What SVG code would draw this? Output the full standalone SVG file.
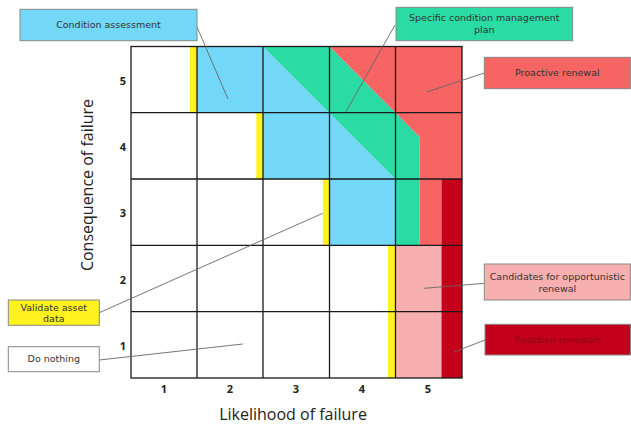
<svg xmlns="http://www.w3.org/2000/svg" width="631" height="426" viewBox="0 0 631 426">
<style>
.lbl{font-family:"DejaVu Sans","Open Sans",sans-serif;font-size:9.5px;fill:#333;text-anchor:middle}
.num{font-family:"Open Sans","DejaVu Sans",sans-serif;font-size:11px;font-weight:bold;fill:#222;text-anchor:middle}
.axis{font-family:"Open Sans","DejaVu Sans",sans-serif;font-size:16px;fill:#222;text-anchor:middle}
.box{stroke:#888;stroke-width:1}
.grid{stroke:#1a1a1a;stroke-width:1.3;fill:none}
.conn{stroke:#666;stroke-width:0.9;fill:none}
</style>
<rect width="631" height="426" fill="#fff"/>
<g id="matrix">
  <rect x="131" y="46.5" width="331" height="331.5" fill="#fff"/>
  <polygon points="197,46.5 263,46.5 395.5,179 395.5,245.3 329.5,245.3 329.5,179 263,179 263,112.7 197,112.7" fill="#73D7F8"/>
  <polygon points="263,46.5 329.5,46.5 395.5,112.7 419.5,137 419.5,245.3 395.5,245.3 395.5,179" fill="#2BDBA4"/>
  <polygon points="329.5,46.5 462,46.5 462,179 441.5,179 441.5,245.3 419.5,245.3 419.5,137 395.5,112.7" fill="#F66464"/>
  <rect x="395.5" y="245.3" width="46" height="132.7" fill="#F8AFAF"/>
  <rect x="441.5" y="179" width="20.5" height="199" fill="#C4001A"/>
  <rect x="190" y="46.5" width="7" height="66.2" fill="#FFF21E"/>
  <rect x="256.3" y="112.7" width="6.7" height="66.3" fill="#FFF21E"/>
  <rect x="322.8" y="179" width="6.7" height="66.3" fill="#FFF21E"/>
  <rect x="388" y="245.3" width="7.5" height="132.7" fill="#FFF21E"/>
  <g class="grid">
    <rect x="131" y="46.5" width="331" height="331.5"/>
    <path d="M197,46.5V378M263,46.5V378M329.5,46.5V378M395.5,46.5V378M131,112.7H462M131,179H462M131,245.3H462M131,311.7H462"/>
  </g>
</g>
<g id="axes">
  <text class="num" x="123" y="85">5</text>
  <text class="num" x="123" y="151">4</text>
  <text class="num" x="123" y="217">3</text>
  <text class="num" x="123" y="284">2</text>
  <text class="num" x="123" y="350">1</text>
  <text class="num" x="164" y="393">1</text>
  <text class="num" x="230" y="393">2</text>
  <text class="num" x="296" y="393">3</text>
  <text class="num" x="362" y="393">4</text>
  <text class="num" x="428" y="393">5</text>
  <text class="axis" x="293" y="420">Likelihood of failure</text>
  <text class="axis" transform="translate(93,185) rotate(-90)">Consequence of failure</text>
</g>
<g id="connectors">
  <line class="conn" x1="197" y1="27" x2="228" y2="99"/>
  <line class="conn" x1="395" y1="25" x2="346" y2="111.7"/>
  <line class="conn" x1="484.3" y1="73" x2="426.7" y2="92"/>
  <line class="conn" x1="484.3" y1="283.3" x2="424.3" y2="288.3"/>
  <line class="conn" x1="485" y1="340" x2="453.3" y2="352.3"/>
  <line class="conn" x1="99.3" y1="312.7" x2="322.7" y2="213.3"/>
  <line class="conn" x1="99.3" y1="360" x2="242.7" y2="344"/>
</g>
<g id="condition-assessment">
  <rect class="box" x="20" y="9.3" width="177" height="31.4" fill="#73D7F8"/>
  <text class="lbl" x="108.5" y="28.3">Condition assessment</text>
</g>
<g id="specific-plan">
  <rect class="box" x="396" y="7.3" width="176.7" height="33.4" fill="#2BDBA4"/>
  <text class="lbl" x="484.3" y="21">Specific condition management</text>
  <text class="lbl" x="484.3" y="33">plan</text>
</g>
<g id="proactive-renewal">
  <rect class="box" x="484.3" y="57.3" width="146" height="31.4" fill="#F66464"/>
  <text class="lbl" x="557.3" y="76.3">Proactive renewal</text>
</g>
<g id="candidates">
  <rect class="box" x="484.3" y="264" width="146" height="36" fill="#F8AFAF"/>
  <text class="lbl" x="557.3" y="279.5">Candidates for opportunistic</text>
  <text class="lbl" x="557.3" y="291.5">renewal</text>
</g>
<g id="reactive-renewals">
  <rect class="box" x="485" y="324.3" width="145.5" height="30.7" fill="#C4001A"/>
  <text class="lbl" x="557.8" y="343" style="fill:#8a0a14">Reactive renewals</text>
</g>
<g id="validate">
  <rect class="box" x="8.3" y="300" width="91" height="25.3" fill="#FFF21E"/>
  <text class="lbl" x="53.8" y="310.5">Validate asset</text>
  <text class="lbl" x="53.8" y="322">data</text>
</g>
<g id="do-nothing">
  <rect class="box" x="8.3" y="346.7" width="91" height="25" fill="#fff"/>
  <text class="lbl" x="53.8" y="362.3">Do nothing</text>
</g>
</svg>
